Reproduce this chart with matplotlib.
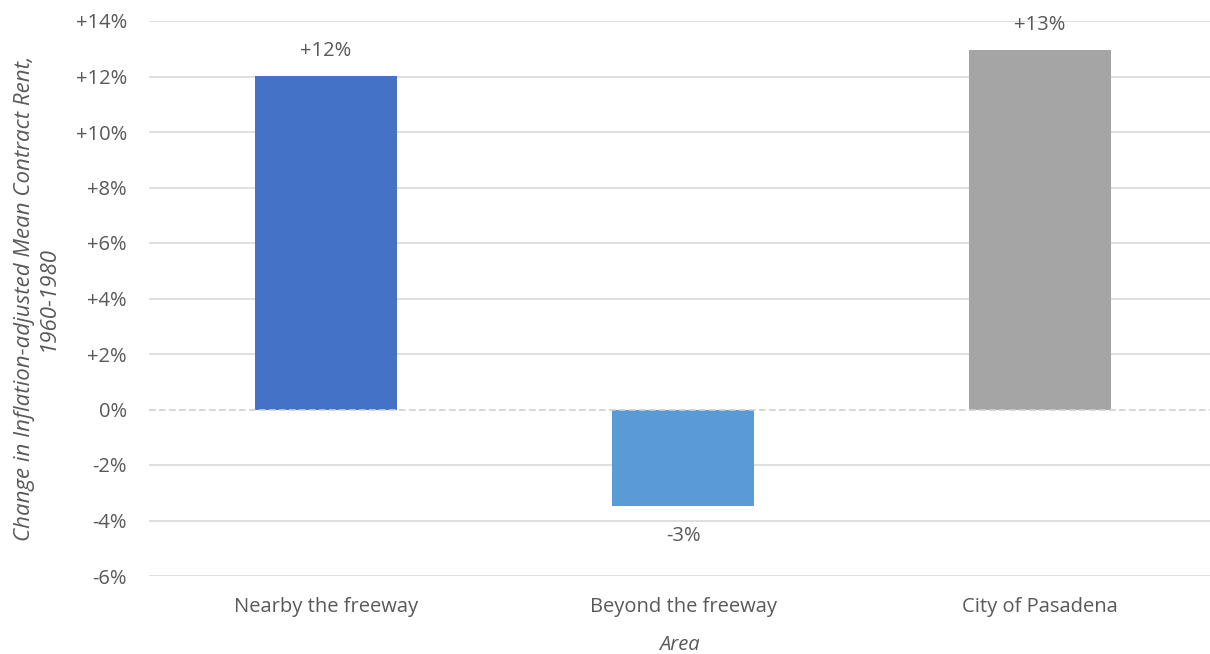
import matplotlib.pyplot as plt
from matplotlib.ticker import FuncFormatter

# Data
areas = ['Nearby the freeway', 'Beyond the freeway', 'City of Pasadena']
rent_change = [12.02, -3.48, 12.96]
bar_labels = ['+12%', '-3%', '+13%']
bar_colors = ['#4472C4', '#5B9BD5', '#A5A5A5']

plt.rcParams['font.family'] = ['Open Sans', 'DejaVu Sans']
text_color = '#595959'
fs = 14.5

fig = plt.figure(figsize=(12.10, 6.54), dpi=100)
ax = fig.add_axes([149 / 1210, 78 / 654, 1 - 149 / 1210, (576 - 21) / 654])

x = range(len(areas))
bars = ax.bar(x, rent_change, width=0.4, color=bar_colors, zorder=3)

ax.set_xlim(-0.496, 2.476)
ax.set_ylim(-6, 14)
ax.set_yticks(range(-6, 15, 2))
ax.yaxis.set_major_formatter(FuncFormatter(lambda v, p: '0%' if v == 0 else f'{v:+.0f}%'))
ax.set_xticks(list(x))
ax.set_xticklabels(areas)

# grid lines, dashed zero line
for t in range(-6, 15, 2):
    if t == 0:
        ax.axhline(t, color='#D0D0D0', lw=1.2, ls=(0, (4, 2)), zorder=4)
    else:
        ax.axhline(t, color='#D9D9D9', lw=1.2, zorder=1)

for s in ax.spines.values():
    s.set_visible(False)
ax.tick_params(length=0, colors=text_color, labelsize=fs)
ax.tick_params(axis='y', pad=16)
ax.tick_params(axis='x', pad=15)

# data labels
for rect, lab, v in zip(bars, bar_labels, rent_change):
    cx = rect.get_x() + rect.get_width() / 2
    off = 18 if v >= 0 else -21.5
    ax.annotate(lab, (cx, v), xytext=(0, off), textcoords='offset points',
                ha='center', va='center', color=text_color, fontsize=fs)

ax.set_xlabel('Area', style='italic', color=text_color, fontsize=fs, labelpad=13)
ax.set_ylabel('Change in Inflation-adjusted Mean Contract Rent,\n1960-1980',
              style='italic', color=text_color, fontsize=16, labelpad=12,
              linespacing=1.15)

fig.savefig('out.png', dpi=100)
